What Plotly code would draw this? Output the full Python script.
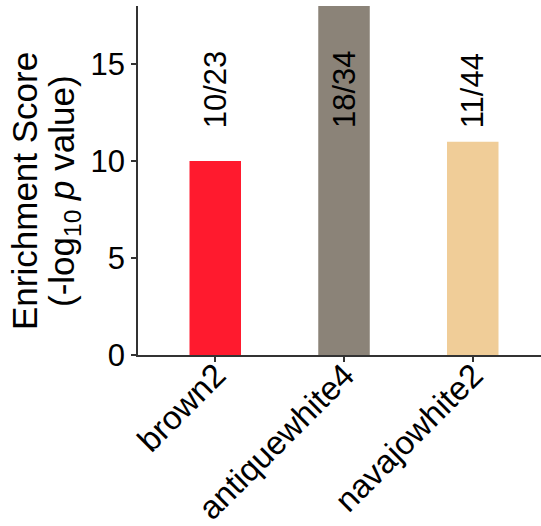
import plotly.graph_objects as go

# Enrichment per module colour
modules = ["brown2", "antiquewhite4", "navajowhite2"]
scores = [10, 18, 11]
overlap = ["10/23", "18/34", "11/44"]
bar_colors = ["#FF1A2E", "#8B8378", "#F0CD98"]
y_ticks = [0, 5, 10, 15]
title_lines = ["Enrichment Score", "(-log<sub>10</sub> <i>p</i> value)"]

FONT = "Liberation Sans, Arial, sans-serif"

fig = go.Figure(
    go.Bar(
        x=modules,
        y=scores,
        marker=dict(color=bar_colors, line=dict(width=0)),
        width=0.4,
        showlegend=False,
    )
)

# overlap counts written vertically above the bars
label_y = 11.6
for m, t in zip(modules, overlap):
    fig.add_annotation(
        x=m, y=label_y, text=t, textangle=-90, showarrow=False,
        xanchor="center", yanchor="bottom",
        font=dict(family=FONT, size=31, color="black"),
    )

# slanted category labels, ending just under each tick
for m in modules:
    fig.add_annotation(
        x=m, xref="x", yref="paper", y=0, xshift=20, yshift=2,
        text=m, textangle=-45, showarrow=False,
        xanchor="right", yanchor="top",
        font=dict(family=FONT, size=33, color="black"),
    )

# two-line y-axis title
for shift, line in zip([-113, -74], title_lines):
    fig.add_annotation(
        xref="paper", yref="paper", x=0, y=0.47, xshift=shift,
        text=line, textangle=-90, showarrow=False,
        xanchor="center", yanchor="middle",
        font=dict(family=FONT, size=35, color="black"),
    )

fig.update_layout(
    width=541, height=526,
    margin=dict(l=138, r=0, t=6, b=171),
    plot_bgcolor="white", paper_bgcolor="white",
    font=dict(family=FONT, color="black"),
)
fig.update_xaxes(
    range=[-0.6, 2.53],
    automargin=False,
    showline=True, linecolor="#333333", linewidth=1.5,
    ticks="outside", ticklen=5, tickcolor="#333333", tickwidth=1.5,
    showticklabels=False,
    showgrid=False, zeroline=False,
)
fig.update_yaxes(
    range=[0, 18],
    automargin=False,
    tickvals=y_ticks,
    showline=True, linecolor="#333333", linewidth=1.5,
    ticks="outside", ticklen=5, tickcolor="#333333", tickwidth=1.5,
    tickfont=dict(size=31, family=FONT, color="black"),
    showgrid=False, zeroline=False,
)

fig.write_html("out.html")
